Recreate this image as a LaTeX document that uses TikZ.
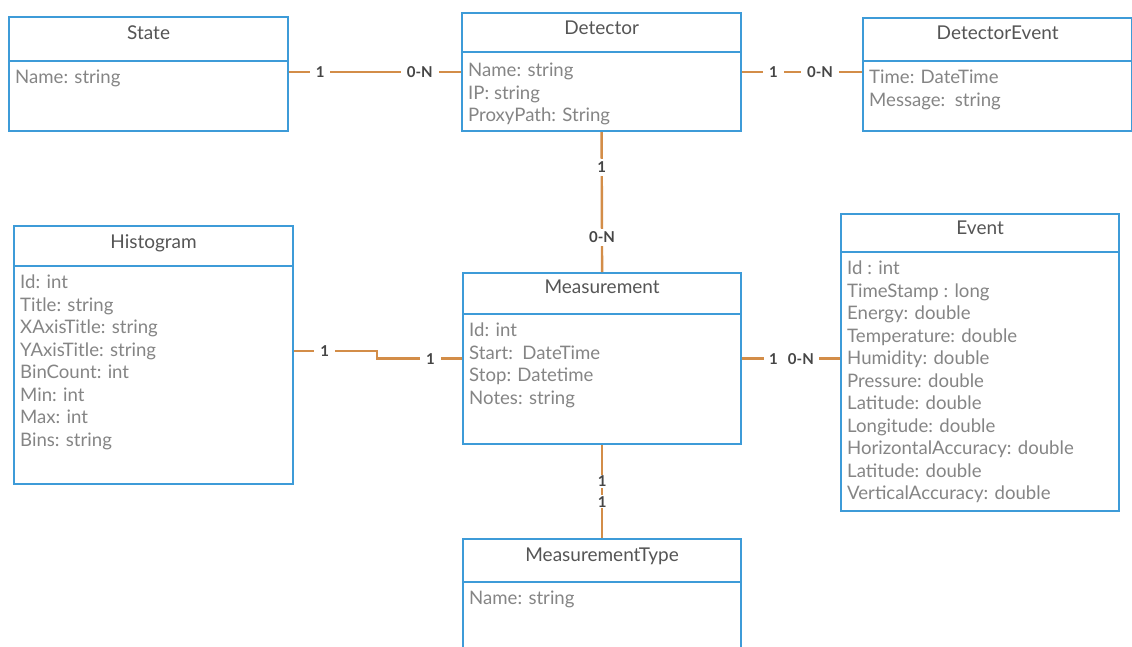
\documentclass[tikz,border=0pt]{standalone}
\usepackage{fontspec}
\setmainfont{Lato}
\usetikzlibrary{positioning}

\definecolor{boxblue}{HTML}{3D9BD8}
\definecolor{linkorange}{HTML}{D38D48}
\definecolor{titlegray}{HTML}{555555}
\definecolor{attrgray}{HTML}{858585}
\definecolor{multgray}{HTML}{454545}

\tikzset{
    classbox/.style={draw=boxblue, line width=2.2pt, fill=white, inner sep=0pt},
    classline/.style={draw=boxblue, line width=2.2pt},
    classtitle/.style={text=titlegray, font=\fontsize{19}{22}\selectfont},
    attrlist/.style={anchor=north west, align=left, text=attrgray,
        inner xsep=7pt, inner ysep=9pt,
        font=\fontsize{18.6}{22.5}\selectfont},
    assoc/.style={draw=linkorange, line width=2.4pt},
    mult/.style={fill=white, text=multgray, inner xsep=6pt, inner ysep=3pt,
        font=\bfseries\fontsize{15}{17}\selectfont},
}

\begin{document}
\begin{tikzpicture}[x=1pt, y=-1pt]
    \clip (0, 0) rectangle (1132, 646);
    \fill[white] (0, 0) rectangle (1132, 646);

    % class boxes
    \node[classbox, minimum width=279pt, minimum height=114pt, anchor=north west] (state) at (8, 16) {};
    \node[classbox, minimum width=279pt, minimum height=118pt, anchor=north west] (detector) at (461, 12) {};
    \node[classbox, minimum width=269pt, minimum height=113pt, anchor=north west] (devent) at (862, 17) {};
    \node[classbox, minimum width=279pt, minimum height=258pt, anchor=north west] (hist) at (13, 225) {};
    \node[classbox, minimum width=278pt, minimum height=171pt, anchor=north west] (meas) at (462, 272) {};
    \node[classbox, minimum width=278pt, minimum height=297pt, anchor=north west] (event) at (840, 213) {};
    \node[classbox, minimum width=278pt, minimum height=140pt, anchor=north west] (mtype) at (462, 538) {};

    % headers
    \draw[classline] ([yshift=-45pt]state.north west) -- ([yshift=-45pt]state.north east);
    \node[classtitle] at ([yshift=-17pt]state.north) {State};
    \node[attrlist] at ([yshift=-45pt]state.north west) {Name: string};

    \draw[classline] ([yshift=-40pt]detector.north west) -- ([yshift=-40pt]detector.north east);
    \node[classtitle] at ([yshift=-16pt]detector.north) {Detector};
    \node[attrlist] at ([yshift=-42pt]detector.north west) {Name: string\\IP: string\\ProxyPath: String};

    \draw[classline] ([yshift=-44pt]devent.north west) -- ([yshift=-44pt]devent.north east);
    \node[classtitle] at ([yshift=-16pt]devent.north) {DetectorEvent};
    \node[attrlist] at ([yshift=-44pt]devent.north west) {Time: DateTime\\Message:\ \ string};

    \draw[classline] ([yshift=-41pt]hist.north west) -- ([yshift=-41pt]hist.north east);
    \node[classtitle] at ([yshift=-18pt]hist.north) {Histogram};
    \node[attrlist] at ([yshift=-41pt]hist.north west)
        {Id: int\\Title: string\\XAxisTitle: string\\YAxisTitle: string\\BinCount: int\\Min: int\\Max: int\\Bins: string};

    \draw[classline] ([yshift=-42pt]meas.north west) -- ([yshift=-42pt]meas.north east);
    \node[classtitle] at ([yshift=-15pt]meas.north) {Measurement};
    \node[attrlist] at ([yshift=-42pt]meas.north west)
        {Id: int\\Start:\ \ DateTime\\Stop: Datetime\\Notes: string};

    \draw[classline] ([yshift=-39pt]event.north west) -- ([yshift=-39pt]event.north east);
    \node[classtitle] at ([yshift=-15pt]event.north) {Event};
    \node[attrlist] at ([yshift=-39pt]event.north west)
        {Id : int\\TimeStamp : long\\Energy: double\\Temperature: double\\Humidity: double\\Pressure: double\\Latitude: double\\Longitude: double\\HorizontalAccuracy: double\\Latitude: double\\VerticalAccuracy: double};

    \draw[classline] ([yshift=-44pt]mtype.north west) -- ([yshift=-44pt]mtype.north east);
    \node[classtitle] at ([yshift=-18pt]mtype.north) {MeasurementType};
    \node[attrlist] at ([yshift=-44pt]mtype.north west) {Name: string};

    % associations
    \draw[assoc] (state.east |- detector.west)
        -- node[mult, pos=0.18] {1} node[mult, pos=0.76] {0-N} (detector.west);
    \draw[assoc] (detector.east)
        -- node[mult, pos=0.26] {1} node[mult, pos=0.65] {0-N} (devent.west |- detector.east);
    \draw[assoc] (detector.south)
        -- node[mult, pos=0.25] {1} node[mult, pos=0.75] {0-N} (meas.north);
    \draw[assoc] (meas.east)
        -- node[mult, pos=0.32, inner xsep=5pt] {1} node[mult, pos=0.6, inner xsep=5pt] {0-N} (event.west |- meas.east);
    \draw[assoc] (meas.south)
        -- node[mult, pos=0.39, inner ysep=1pt] {1} node[mult, pos=0.61, inner ysep=1pt] {1} (mtype.north);
    \coordinate (jog) at (377, 351);
    \draw[assoc] (hist.east |- jog) -- node[mult, pos=0.37] {1} (jog)
        -- (jog |- meas.west) -- node[mult, pos=0.63] {1} (meas.west);
\end{tikzpicture}
\end{document}
